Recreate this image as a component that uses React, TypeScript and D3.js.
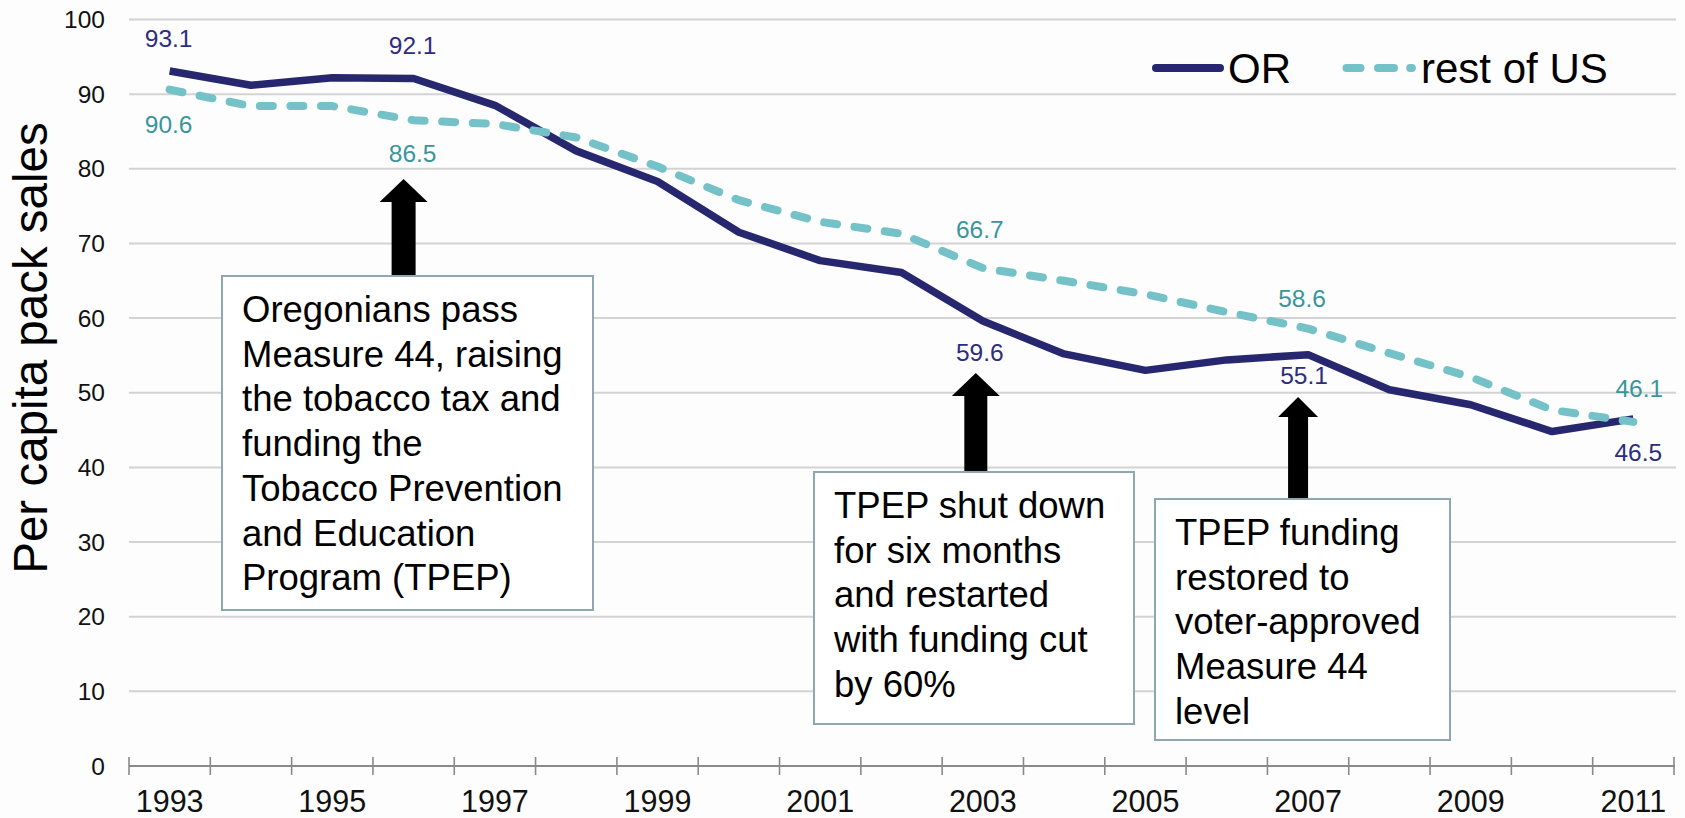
import React from "react";
import * as d3 from "d3";

// chart data
const years = [1993, 1994, 1995, 1996, 1997, 1998, 1999, 2000, 2001, 2002,
  2003, 2004, 2005, 2006, 2007, 2008, 2009, 2010, 2011];
const orValues = [93.1, 91.2, 92.2, 92.1, 88.5, 82.4, 78.3, 71.5, 67.7, 66.1,
  59.6, 55.2, 53.0, 54.4, 55.1, 50.4, 48.4, 44.8, 46.5];
const usValues = [90.6, 88.4, 88.4, 86.5, 86.0, 84.2, 80.3, 75.8, 72.9, 71.3,
  66.7, 65.0, 63.2, 60.8, 58.6, 55.3, 52.1, 47.7, 46.1];
const yTicks = [0, 10, 20, 30, 40, 50, 60, 70, 80, 90, 100];
const xLabelYears = [1993, 1995, 1997, 1999, 2001, 2003, 2005, 2007, 2009, 2011];

// which points carry a value label (series, year, label offsets)
const orLabels = [
  { year: 1993, dx: -1, dy: -24.5 },
  { year: 1996, dx: -1, dy: -24.5 },
  { year: 2003, dx: -3, dy: 39.5 },
  { year: 2007, dx: -4, dy: 29.5 },
  { year: 2011, dx: 5, dy: 42 },
];
const usLabels = [
  { year: 1993, dx: -1, dy: 43 },
  { year: 1996, dx: -1, dy: 42 },
  { year: 2003, dx: -3, dy: -30 },
  { year: 2007, dx: -6, dy: -22 },
  { year: 2011, dx: 6, dy: -24.5 },
];

const notes = [
  {
    year: 1996, dx: -10, tip: 179, headH: 23, headW: 24, shaftW: 12,
    box: { x0: 222, x1: 593, y0: 276, y1: 610 },
    lines: ["Oregonians pass", "Measure 44, raising", "the tobacco tax and",
      "funding the", "Tobacco Prevention", "and Education", "Program (TPEP)"],
  },
  {
    year: 2003, dx: -7, tip: 373, headH: 23, headW: 24, shaftW: 11.5,
    box: { x0: 814, x1: 1134, y0: 472, y1: 724 },
    lines: ["TPEP shut down", "for six months", "and restarted",
      "with funding cut", "by 60%"],
  },
  {
    year: 2007, dx: -10, tip: 397, headH: 20, headW: 20, shaftW: 10,
    box: { x0: 1155, x1: 1450, y0: 499, y1: 740 },
    lines: ["TPEP funding", "restored to", "voter-approved", "Measure 44", "level"],
  },
];

const W = 1685;
const H = 818;
const FONT = "'Liberation Sans', Arial, Helvetica, sans-serif";
const OR_COLOR = "#27276f";
const US_COLOR = "#74c1c7";
const OR_TEXT = "#2d2d80";
const US_TEXT = "#3a959b";

export default function App() {
  const x = d3.scaleBand<number>().domain(years).range([129, 1674]);
  const cx = (yr: number) => (x(yr) as number) + x.bandwidth() / 2;
  const y = d3.scaleLinear().domain([0, 100]).range([766, 19.5]);

  const line = d3.line<number>()
    .x((d, i) => cx(years[i]))
    .y(d => y(d));

  const boundaries = [...years.map(yr => x(yr) as number), 1674];

  const valueOf = (arr: number[], yr: number) => arr[years.indexOf(yr)];

  return (
    <svg width={W} height={H} style={{ position: "absolute", left: 0, top: 0, display: "block" }}
      fontFamily={FONT}>
      <rect width={W} height={H} fill="#fdfdfd" />

      {/* gridlines */}
      {yTicks.filter(t => t > 0).map(t => (
        <line key={t} x1={129} x2={1676} y1={y(t)} y2={y(t)} stroke="#d3d3d3" strokeWidth={2} />
      ))}

      {/* y tick labels */}
      {yTicks.map(t => (
        <text key={t} x={105} y={y(t)} dy="0.35em" textAnchor="end" fontSize={24.5} fill="#111">{t}</text>
      ))}

      {/* x axis */}
      <line x1={129} x2={1675} y1={y(0)} y2={y(0)} stroke="#8a8a8a" strokeWidth={2} />
      {boundaries.map((b, i) => (
        <line key={i} x1={b} x2={b} y1={y(0) - 9} y2={y(0) + 9} stroke="#8a8a8a" strokeWidth={1.6} />
      ))}
      {xLabelYears.map(yr => (
        <text key={yr} x={cx(yr)} y={812} textAnchor="middle" fontSize={30.5} fill="#111">{yr}</text>
      ))}

      {/* y axis title */}
      <text transform={`translate(47,348) rotate(-90)`} textAnchor="middle" fontSize={47.5} fill="#000">
        Per capita pack sales
      </text>

      {/* series */}
      <path d={line(orValues) || ""} fill="none" stroke={OR_COLOR} strokeWidth={7.5}
        strokeLinejoin="round" strokeLinecap="butt" />
      <path d={line(usValues) || ""} fill="none" stroke={US_COLOR} strokeWidth={8}
        strokeLinejoin="round" strokeLinecap="round" strokeDasharray="13 17.6" />

      {/* value labels */}
      {orLabels.map(l => {
        const v = valueOf(orValues, l.year);
        return (
          <text key={"or" + l.year} x={cx(l.year) + l.dx} y={y(v) + l.dy} textAnchor="middle"
            fontSize={24.5} fill={OR_TEXT}>{v.toFixed(1)}</text>
        );
      })}
      {usLabels.map(l => {
        const v = valueOf(usValues, l.year);
        return (
          <text key={"us" + l.year} x={cx(l.year) + l.dx} y={y(v) + l.dy} textAnchor="middle"
            fontSize={24.5} fill={US_TEXT}>{v.toFixed(1)}</text>
        );
      })}

      {/* legend */}
      <line x1={1156} x2={1220} y1={68} y2={68} stroke={OR_COLOR} strokeWidth={8} strokeLinecap="round" />
      <text x={1228} y={83} fontSize={42} fill="#000">OR</text>
      <line x1={1346.5} x2={1412.4} y1={68} y2={68} stroke={US_COLOR} strokeWidth={8} strokeLinecap="round"
        strokeDasharray="14 17.5 16 16.2 1.7 100" />
      <text x={1421} y={83} fontSize={42} fill="#000">rest of US</text>

      {/* annotations */}
      {notes.map((n, i) => {
        const ax = cx(n.year) + n.dx;
        const base = n.tip + n.headH;
        const pts = [
          [ax, n.tip], [ax + n.headW, base], [ax + n.shaftW, base], [ax + n.shaftW, n.box.y0 + 1],
          [ax - n.shaftW, n.box.y0 + 1], [ax - n.shaftW, base], [ax - n.headW, base],
        ].map(p => p.join(",")).join(" ");
        return (
          <g key={i}>
            <polygon points={pts} fill="#000" />
            <rect x={n.box.x0} y={n.box.y0} width={n.box.x1 - n.box.x0} height={n.box.y1 - n.box.y0}
              fill="#fff" stroke="#8ea9ad" strokeWidth={2} />
            {n.lines.map((t, j) => (
              <text key={j} x={n.box.x0 + 20} y={n.box.y0 + 46 + j * 44.7} fontSize={36.5} fill="#000">{t}</text>
            ))}
          </g>
        );
      })}
    </svg>
  );
}
